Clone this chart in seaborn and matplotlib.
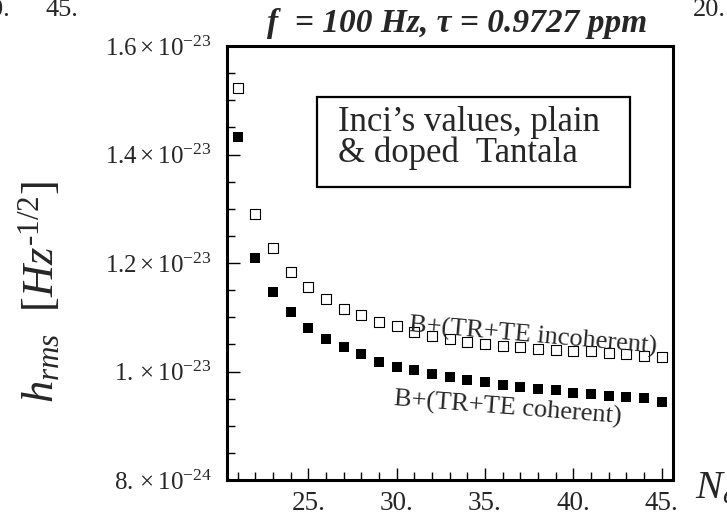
import matplotlib
matplotlib.use("Agg")
import matplotlib.pyplot as plt
import seaborn as sns
import pandas as pd
from matplotlib.ticker import FixedLocator, FixedFormatter
from matplotlib.patches import Rectangle

# ---- data ----
n_layers = [21, 22, 23, 24, 25, 26, 27, 28, 29, 30, 31, 32, 33,
            34, 35, 36, 37, 38, 39, 40, 41, 42, 43, 44, 45]
h_incoherent = [1.522, 1.290, 1.227, 1.184, 1.156, 1.133, 1.115, 1.104, 1.092,
                1.083, 1.073, 1.065, 1.060, 1.055, 1.051, 1.047, 1.045, 1.041,
                1.040, 1.038, 1.037, 1.035, 1.032, 1.029, 1.026]
h_coherent = [1.432, 1.209, 1.147, 1.109, 1.081, 1.060, 1.045, 1.032, 1.018,
              1.009, 1.002, 0.995, 0.990, 0.984, 0.980, 0.975, 0.971, 0.967,
              0.965, 0.961, 0.958, 0.955, 0.953, 0.951, 0.944]
scale = 1e-23
y_ticks = [0.8e-23, 1.0e-23, 1.2e-23, 1.4e-23, 1.6e-23]
y_tick_labels = [r"$8.\times10^{-24}$", r"$1.\times10^{-23}$",
                 r"$1.2\times10^{-23}$", r"$1.4\times10^{-23}$",
                 r"$1.6\times10^{-23}$"]
x_ticks = [25, 30, 35, 40, 45]
x_tick_labels = ["25.", "30.", "35.", "40.", "45."]

df_inc = pd.DataFrame({"N": n_layers, "h": [v * scale for v in h_incoherent]})
df_coh = pd.DataFrame({"N": n_layers, "h": [v * scale for v in h_coherent]})

sns.set_style("ticks")
plt.rcParams["font.family"] = ["Liberation Serif", "DejaVu Serif"]
plt.rcParams["mathtext.fontset"] = "custom"
plt.rcParams["mathtext.rm"] = "Liberation Serif"
plt.rcParams["mathtext.it"] = "Liberation Serif:italic"
plt.rcParams["mathtext.bf"] = "Liberation Serif:bold"

W, H = 727, 518
fig = plt.figure(figsize=(W / 100, H / 100), dpi=100)
L, R, T, B = 227, 673, 46, 480
ax = fig.add_axes([L / W, 1 - B / H, (R - L) / W, (B - T) / H])

sns.scatterplot(data=df_inc, x="N", y="h", marker="s", s=46, facecolor="white",
                edgecolor="black", linewidth=0.8, ax=ax, zorder=3)
sns.scatterplot(data=df_coh, x="N", y="h", marker="s", s=55, color="black",
                edgecolor="black", linewidth=0, ax=ax, zorder=3)

ax.set_xlim(20.4, 45.64)
ax.set_ylim(0.8e-23, 1.6e-23)
ax.set_xlabel("")
ax.set_ylabel("")

ax.xaxis.set_major_locator(FixedLocator(x_ticks))
ax.xaxis.set_major_formatter(FixedFormatter(x_tick_labels))
ax.xaxis.set_minor_locator(FixedLocator(n_layers))
ax.yaxis.set_major_locator(FixedLocator(y_ticks))
ax.yaxis.set_major_formatter(FixedFormatter(y_tick_labels))
ax.yaxis.set_minor_locator(FixedLocator([0.85e-23 + 0.05e-23 * i for i in range(15)]))

ax.tick_params(which="both", direction="in", top=False, right=False, color="black", width=1.0)
ax.tick_params(which="major", length=9)
ax.tick_params(which="minor", length=5.5)
ax.tick_params(axis="x", which="major", labelsize=19.5, pad=8)
ax.tick_params(axis="y", which="major", labelsize=18, pad=11)
for sp in ax.spines.values():
    sp.set_linewidth(2.2)
    sp.set_color("black")
    sp.set_visible(True)

# box with text
ax.add_patch(Rectangle(((317 - L) / (R - L), (B - 187) / (B - T)), 313 / (R - L), 90 / (B - T),
                       transform=ax.transAxes, fill=False, edgecolor="black", linewidth=1.6, zorder=4))
ax.text((338 - L) / (R - L), (B - 131) / (B - T), "Inci\u2019s values, plain",
        transform=ax.transAxes, fontsize=25, ha="left", va="baseline")
ax.text((338 - L) / (R - L), (B - 162) / (B - T), "& doped  Tantala",
        transform=ax.transAxes, fontsize=25, ha="left", va="baseline")

# curve labels
ax.text((533 - L) / (R - L), (B - 336.5) / (B - T), "B+(TR+TE incoherent)",
        transform=ax.transAxes, fontsize=19, ha="center", va="center", rotation=-5,
        rotation_mode="anchor")
ax.text((508 - L) / (R - L), (B - 408) / (B - T), "B+(TR+TE coherent)",
        transform=ax.transAxes, fontsize=19, ha="center", va="center", rotation=-4.5,
        rotation_mode="anchor")

# title and stray labels
fig.text(457 / W, 1 - 32 / H, "f  = 100 Hz, \u03c4 = 0.9727 ppm", fontsize=24,
         fontweight="bold", fontstyle="italic", ha="center", va="baseline")
fig.text(10 / W, 1 - 16 / H, "0.", fontsize=19, ha="right", va="baseline")
fig.text(45 / W, 1 - 16 / H, "45.", fontsize=19, ha="left", va="baseline")
fig.text(693 / W, 1 - 16 / H, "20.", fontsize=19, ha="left", va="baseline")

# axis labels
ylab = "$h_{rms}\\ \\ [Hz^{\u2010\\mathit{1/2}}]$"
fig.text(39 / W, 1 - 292 / H, ylab, fontsize=32, rotation=90,
         ha="center", va="center")
fig.text(695 / W, 1 - 498 / H, r"$N_{d}$", fontsize=29, ha="left", va="baseline")

fig.savefig("out.png", dpi=100)
